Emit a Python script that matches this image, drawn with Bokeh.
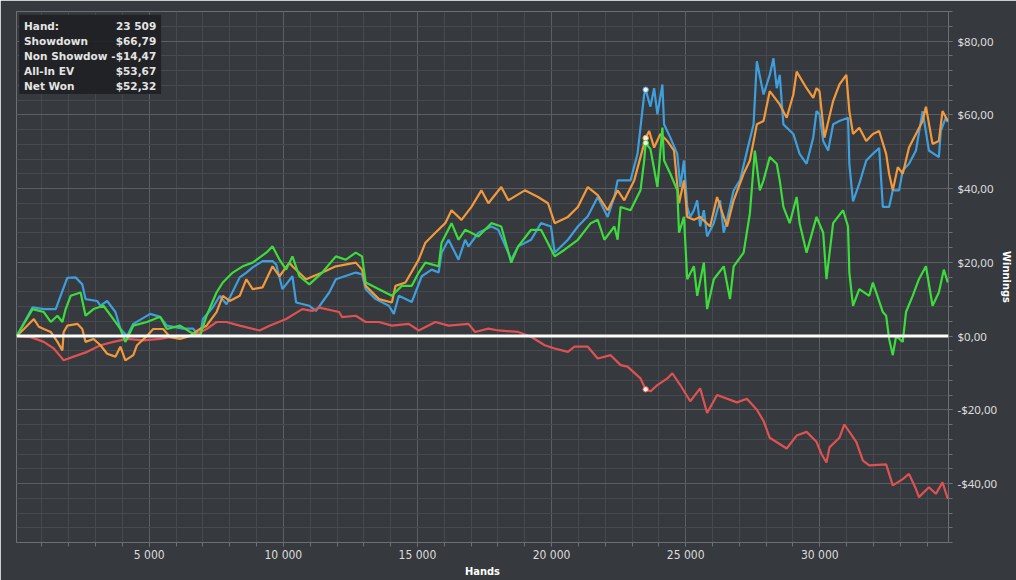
from bokeh.plotting import figure
from bokeh.models import Range1d, FixedTicker, Span, BoxAnnotation, ColumnDataSource
from bokeh.core.properties import value
from bokeh.embed import file_html
from bokeh.resources import INLINE

# ---------------- data ----------------
showdown_hands = [56, 649, 1068, 1513, 1624, 1947, 2254, 2503, 2625, 3059, 3181, 3430, 3738, 3923, 4172, 4405,
                  5036, 5406, 5655, 6259, 6630, 6890, 7001, 7372, 7632, 7880, 8373, 8621, 8855, 9226, 9597, 9734,
                  9967, 10338, 10475, 10968, 11217, 11710, 11958, 12700, 12934, 13071, 13442, 13935, 14120, 14306,
                  14788, 14925, 15159, 15530, 15789, 15900, 16160, 16531, 16779, 16902, 17273, 17755, 18014, 18385,
                  18495, 18755, 19237, 19608, 19978, 20116, 20609, 20980, 21351, 21722, 22093, 22341, 22463, 22945,
                  23205, 23454, 23509, 23687, 23824, 23947, 24132, 24195, 24429, 24688, 24799, 24936, 25059, 25170,
                  25307, 25430, 25541, 25678, 25800, 26049, 26282, 26420, 26542, 26790, 27024, 27283, 27532, 27654,
                  27903, 28136, 28274, 28396, 28507, 28644, 29015, 29249, 29508, 29757, 29879, 29990, 30128, 30313,
                  30498, 30732, 31054, 31103, 31240, 31474, 31733, 31981, 32215, 32352, 32586, 32723, 32957, 33094,
                  33328, 33587, 33835, 34069, 34440, 34514, 34699, 34774]
showdown_values = [0, 7.8, 7.3, 7.3, 9.5, 15.8, 15.9, 14, 10, 9.5, 8.2, 9.5, 6.5, 2, 0, 3.3,
                   6, 5.2, 2.8, 2, 2, 0, 4.6, 7.8, 10.9, 8.6, 15.9, 17.2, 18.6, 20.3, 20.3, 19.4,
                   12.7, 16.2, 9.1, 8.2, 6.8, 11.8, 15.4, 17.2, 16.7, 12.7, 10, 8.2, 6, 10.9,
                   9.2, 11.8, 16.2, 18, 17.2, 22.6, 26.1, 20.7, 26.1, 24.3, 28, 29.7, 28.8, 22.6,
                   20.7, 24.3, 26.1, 30.6, 29.7, 22.6, 26.1, 29.7, 32.5, 37.7, 32.3, 37.7, 42.2, 42.2,
                   49.4, 65.5, 66.79, 62.2, 67.2, 60.1, 68.2, 57.4, 53.8, 49.4, 40.4, 47.6, 35, 32.3,
                   34.1, 36.8, 29.7, 34.1, 27, 30.6, 36.8, 28, 31.5, 39.5, 42.2, 50, 57.4, 74.5,
                   65.5, 70.8, 75.3, 67.2, 70.8, 57.4, 54.8, 49.4, 46.7, 53.8, 61, 60.1, 52.9, 50.3,
                   57.4, 58.3, 59.2, 46.7, 36.5, 41.3, 47.6, 49.4, 51, 35, 35, 39.5, 39.5, 44.9,
                   46.7, 50.3, 61, 50.3, 48.5, 55.6, 59.2, 58]

nonshowdown_hands = [56, 586, 1068, 1439, 1698, 1809, 2180, 2688, 3181, 3663, 4172, 4776, 5406, 6026, 6630, 7138,
                     7509, 7880, 8373, 9114, 9485, 10104, 10597, 10709, 11079, 11339, 12081, 12192, 12700, 13071,
                     13564, 14046, 14677, 15047, 15667, 16160, 16902, 17150, 17643, 18014, 18755, 19237, 19745,
                     20116, 20609, 20857, 21351, 21722, 22204, 22574, 22834, 23316, 23509, 23687, 23947, 24317,
                     24503, 24799, 25170, 25541, 25800, 26171, 26913, 27283, 27654, 27903, 28136, 28767, 29138,
                     29508, 29879, 30063, 30250, 30363, 30732, 30917, 31362, 31610, 31844, 32475, 32723, 33094,
                     33328, 33587, 33698, 34069, 34329, 34577, 34774]
nonshowdown_values = [0, -0.3, -1.6, -3.4, -5.6, -6.6, -5.6, -4.3, -2.5, -1.6, -0.8, -1.2, -0.8, 0, 0, 1.9,
                      3.8, 3.8, 2.8, 1.5, 2.8, 4.6, 6.8, 7.3, 6.8, 7.7, 6.5, 5.1, 5.5, 3.8,
                      3.8, 2.8, 3.3, 1.5, 3.8, 2.8, 3.3, 1.1, 2, 1.5, 1.1, -0.2, -2.5,
                      -3.4, -4.3, -2.9, -2.9, -6.1, -5.2, -7.9, -8.3, -11.5, -14.47, -15, -13.3, -11.5,
                      -10.1, -13.3, -17.7, -14.2, -20.9, -16, -18, -17, -20, -23, -27.6, -30.5, -27,
                      -26, -28.7, -32, -34.3, -30.2, -27.6, -24, -28.7, -33.8, -35.1, -34.8, -40.5, -38.8,
                      -37.4, -41.5, -43.7, -41, -42.8, -39.7, -44.2]

allin_hands = [56, 326, 697, 882, 1068, 1327, 1576, 1761, 1809, 1947, 2318, 2503, 2625, 2922, 3181, 3430, 3738,
               3923, 4109, 4405, 4542, 4913, 5147, 5518, 5777, 6148, 6518, 6890, 7138, 7509, 7742, 8002, 8373,
               8621, 8855, 9226, 9597, 9856, 10227, 10338, 10846, 11450, 11958, 12700, 12934, 13071, 13564,
               14046, 14183, 14554, 15047, 15296, 15667, 16037, 16271, 16642, 17013, 17384, 17643, 18125, 18385,
               19003, 19496, 19867, 20116, 20609, 20980, 21351, 21722, 22093, 22463, 22712, 23082, 23316, 23509,
               23640, 23824, 24058, 24317, 24565, 24753, 24936, 25059, 25307, 25541, 25912, 26171, 26542, 26790,
               27161, 27395, 27654, 27903, 28136, 28507, 28767, 29015, 29138, 29508, 29757, 29879, 29990, 30176,
               30498, 30732, 30991, 31103, 31240, 31474, 31733, 31981, 32215, 32475, 32586, 32723, 32909, 33094,
               33328, 33587, 33835, 33958, 34206, 34440, 34577, 34774]
allin_values = [0, 1.9, 4.6, 2.5, 1.9, 1.1, -1.6, -3.9, 1.1, 2.8, 3.3, 1.9, -1.6, -0.8, -2.5, -4.8, -5.6,
                -2.9, -6.6, -5.2, -2.5, 0, 1.9, 1.9, -0.3, -0.8, 0, 1.9, 2.8, 6.5, 10.9, 9.5, 10.9,
                15.4, 12.7, 13.2, 18.9, 16.2, 19.9, 18.9, 15.4, 17.2, 18.9, 19.9, 18, 13.6, 10,
                9.1, 13.6, 14.5, 20.7, 25.3, 28, 30.6, 34.1, 31.5, 35, 39.5, 36, 40.4, 36.8,
                39.5, 37.7, 36, 30.6, 32.3, 35, 40.4, 38.2, 34.1, 39.5, 36.8, 42.2, 48.5, 53.67,
                55.6, 51.1, 54.8, 52.9, 50.3, 36, 42.2, 32.3, 31.5, 32.3, 29.7, 37.7, 29.7, 36.8,
                44, 47.6, 57.4, 58.3, 66.4, 62.8, 59.2, 65.5, 71.7, 67.2, 64.6, 67.2, 66.4, 53.8,
                63.7, 68.2, 70.8, 61, 54.8, 56.5, 52.9, 54.8, 55.6, 49.4, 44, 39.5, 45.8, 44,
                51.1, 54.8, 58.3, 62.2, 52.1, 52.9, 61, 58.3]

netwon_hands = [56, 400, 649, 1068, 1327, 1576, 1761, 1884, 2069, 2440, 2625, 2922, 3293, 3663, 3923, 4109, 4405,
                4913, 5406, 5655, 6148, 6518, 6890, 7138, 7509, 7742, 8113, 8484, 8855, 9363, 9597, 9856, 10104,
                10338, 10597, 10968, 11450, 11958, 12329, 12700, 12934, 13071, 13564, 14046, 14417, 14788, 15047,
                15296, 15789, 15900, 16271, 16531, 16779, 17273, 17755, 18125, 18495, 18755, 19237, 19608, 20116,
                20486, 20980, 21462, 21722, 21970, 22341, 22463, 22574, 22945, 23316, 23454, 23509, 23687, 23947,
                24132, 24195, 24429, 24688, 24753, 24936, 25059, 25307, 25430, 25678, 25800, 26049, 26420, 26653,
                26790, 27161, 27395, 27580, 27766, 27903, 28136, 28396, 28507, 28644, 28878, 29138, 29249, 29508,
                29879, 30128, 30250, 30498, 30869, 31054, 31103, 31240, 31474, 31844, 31981, 32352, 32475, 32586,
                32723, 32848, 33094, 33216, 33465, 33698, 33958, 34206, 34440, 34626, 34774]
netwon_values = [0, 4.2, 7.3, 6.5, 3.8, 5.5, 3.8, 7.3, 10.9, 11.8, 5.5, 7.3, 8.2, 4.6, 1.9, -1.6, 2.8,
                 3.8, 5.2, 1.9, 2.8, 1.1, 0, 5.5, 11.8, 14.5, 17.2, 18.9, 19.9, 22.6, 24.3, 20.7, 18,
                 21.6, 16.2, 14, 17.2, 21.6, 20.7, 22.6, 21.6, 14.5, 12.7, 10.9, 13.6, 13.6, 17.2,
                 19.9, 18.9, 25.3, 30.6, 26.1, 28.8, 27, 30.6, 29.7, 19.9, 24.3, 28.8, 28.8, 21.6,
                 23.4, 26.1, 30.6, 31.5, 26.1, 29.7, 26.1, 35, 34.1, 39.5, 47.6, 52.32, 50.7, 40.4,
                 56.5, 47.6, 44, 39.5, 28, 32.3, 15.4, 18.9, 10.9, 19.9, 7.3, 15.4, 18.9, 10,
                 18.9, 22.6, 33.3, 50.3, 39.5, 42.2, 48.5, 46.7, 42.2, 35, 30.6, 37.7, 30.6, 22.6,
                 32.3, 28, 15.4, 30.6, 34.1, 29.7, 17.2, 8.2, 12.7, 10.9, 14.5, 6.5, 5.5, -0.8,
                 -5.2, 0, -1.6, 6.5, 10.9, 15.4, 18.9, 8.2, 11.8, 18, 14.5]

marker_hand = 23509
tooltip_names = ["Showdown", "Non Showdow", "All-In EV", "Net Won"]

x_tick_values = [5000, 10000, 15000, 20000, 25000, 30000]
x_tick_labels = ["5 000", "10 000", "15 000", "20 000", "25 000", "30 000"]
y_tick_values = [-40, -20, 0, 20, 40, 60, 80]
y_tick_labels = ["-$40,00", "-$20,00", "$0,00", "$20,00", "$40,00", "$60,00", "$80,00"]

# ---------------- style ----------------
BG = "#36393d"
GRID_MAJOR = "#5b5e62"
GRID_MINOR = "#46494d"
FRAME = "#6c6f73"
TXT = "#dcdcdc"
C_BLUE = "#3f9fdc"
C_RED = "#de5252"
C_ORANGE = "#f2993d"
C_GREEN = "#3ddc3d"
NARROW = "'DejaVu Sans Condensed', 'Liberation Sans'"


def money(v):
    s = f"{abs(v):.2f}".replace(".", ",")
    return ("-$" if v < 0 else "$") + s


p = figure(width=1016, height=580, output_backend="svg", toolbar_location=None,
           x_range=Range1d(50, 34800), y_range=Range1d(-56, 88),
           x_axis_location="below", y_axis_location="right",
           background_fill_color=BG, border_fill_color=BG,
           min_border_left=16, min_border_top=11, min_border_right=5, min_border_bottom=5)
p.outline_line_color = FRAME
p.outline_line_width = 1

xa = p.xaxis[0]
xa.ticker = FixedTicker(ticks=x_tick_values, minor_ticks=list(range(1000, 35000, 1000)))
xa.major_label_overrides = dict(zip(x_tick_values, x_tick_labels))
xa.axis_label = "Hands"
ya = p.yaxis[0]
ya.ticker = FixedTicker(ticks=y_tick_values, minor_ticks=list(range(-56, 89, 4)))
ya.major_label_overrides = dict(zip(y_tick_values, y_tick_labels))
ya.axis_label = "Winnings"

for ax in (xa, ya):
    ax.axis_line_color = None
    ax.major_tick_line_color = FRAME
    ax.minor_tick_line_color = FRAME
    ax.major_tick_in = 0
    ax.minor_tick_in = 0
    ax.major_tick_out = 4
    ax.minor_tick_out = 4
    ax.major_label_text_color = TXT
    ax.axis_label_text_color = "#ffffff"
    ax.axis_label_text_font_style = "bold"
    ax.axis_label_standoff = 0
    ax.axis_label_text_font = NARROW
    ax.axis_label_text_font_size = "11px"

xa.major_label_text_font = NARROW
xa.major_label_text_font_size = "12px"
xa.major_label_standoff = 1
ya.major_label_text_font = "Noto Sans"
ya.major_label_text_font_size = "11.5px"
ya.major_label_standoff = 5
ya.major_label_orientation = "horizontal"

p.xgrid.grid_line_color = GRID_MAJOR
p.ygrid.grid_line_color = GRID_MAJOR
p.xgrid.minor_grid_line_color = GRID_MINOR
p.ygrid.minor_grid_line_color = GRID_MINOR

series = [
    (showdown_hands, showdown_values, C_BLUE),
    (nonshowdown_hands, nonshowdown_values, C_RED),
    (allin_hands, allin_values, C_ORANGE),
    (netwon_hands, netwon_values, C_GREEN),
]
for hands, vals, col in series:
    p.line(hands, vals, line_color=col, line_width=2.2)

p.add_layout(Span(location=0, dimension="width", line_color="#ffffff", line_width=3))

marker_vals = [vals[hands.index(marker_hand)] for hands, vals, _ in series]
marker_cols = [col for _, _, col in series]
p.scatter([marker_hand] * 4, marker_vals, size=5.5, fill_color="#f4f1e6",
          line_color=marker_cols, line_width=1)

# ---------------- tooltip box ----------------
p.add_layout(BoxAnnotation(left=150, right=5440, top=87.1, bottom=65.6, level="underlay",
                           fill_color="#1f2123", fill_alpha=0.92, line_color=None))
tip_names = ["Hand:"] + tooltip_names
tip_vals = [f"{marker_hand:,}".replace(",", " ")] + [money(v) for v in marker_vals]
row_y = [84.2 - 4.08 * i for i in range(len(tip_names))]
src = ColumnDataSource(dict(y=row_y, name=tip_names, val=tip_vals,
                            xl=[330] * len(row_y), xr=[5260] * len(row_y)))
r1 = p.text(x="xl", y="y", text="name", source=src, text_color="#e4e4e4",
            text_font=value("DejaVu Sans"), text_font_style="bold", text_font_size="10.5px",
            text_baseline="middle", text_align="left")
r2 = p.text(x="xr", y="y", text="val", source=src, text_color="#e4e4e4",
            text_font=value("DejaVu Sans"), text_font_style="bold", text_font_size="10.5px",
            text_baseline="middle", text_align="right")
r1.level = "overlay"
r2.level = "overlay"

open("out.html", "w").write(file_html(p, INLINE))
